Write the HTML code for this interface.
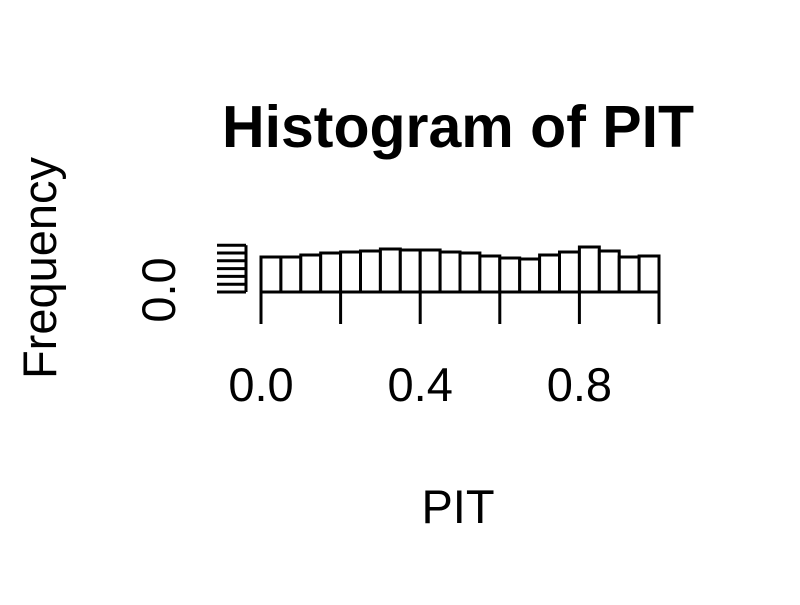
<!DOCTYPE html>
<html><head><meta charset="utf-8"><style>
body{margin:0;background:#fff}
svg text{font-family:"Liberation Sans",sans-serif;fill:#000}
</style></head><body>
<svg width="800" height="600">
<text x="458" y="147" font-size="59" font-weight="bold" text-anchor="middle">Histogram of PIT</text>
<text x="458" y="523" font-size="47" text-anchor="middle">PIT</text>
<text transform="translate(56,268) rotate(-90)" font-size="47" text-anchor="middle">Frequency</text>
<g id="bars"></g>
<g id="axes" stroke="#000" stroke-width="3" fill="none"></g>
<g id="labels"></g>
</svg>
<script>
const counts=[35,35,37,39,40,41,43,42,42,40,39,36,34,33,37,40,45,41,35,36];
const xTicks=[0,0.2,0.4,0.6,0.8,1.0];
const xTickLabels=["0.0","0.4","0.8"];
const xLabelVals=[0,0.4,0.8];
const yTicks=[0,1,2,3,4,5,6];
const NS="http://www.w3.org/2000/svg";
const x=v=>261+v*398, y=v=>292-v, yt=i=>292-i*7.8;
const bars=document.getElementById('bars'),axes=document.getElementById('axes'),labels=document.getElementById('labels');
function mk(tag,attrs,parent){const e=document.createElementNS(NS,tag);for(const k in attrs)e.setAttribute(k,attrs[k]);parent.appendChild(e);return e;}
const bw=1/counts.length;
counts.forEach((c,i)=>{
 const r=mk('rect',{x:x(i*bw),y:y(c),width:x((i+1)*bw)-x(i*bw),height:y(0)-y(c),fill:'#fff',stroke:'#000','stroke-width':3},bars);
 
 
});
const xl=mk('line',{x1:x(0),x2:x(1),y1:292,y2:292},axes);


xTicks.forEach(t=>{const l=mk('line',{x1:x(t),x2:x(t),y1:292,y2:324},axes);
 
 });
xLabelVals.forEach((v,i)=>{const t=mk('text',{x:x(v),y:401,'font-size':47,'text-anchor':'middle'},labels);t.textContent=xTickLabels[i];
 
 });
const yl=mk('line',{x1:246,x2:246,y1:yt(6),y2:yt(0)},axes);


yTicks.forEach(i=>{const l=mk('line',{x1:217,x2:246,y1:yt(i),y2:yt(i)},axes);
 
 });
const yl0=mk('text',{transform:'translate(175,290) rotate(-90)','font-size':47,'text-anchor':'middle'},labels);
yl0.textContent="0.0";


</script>
</body></html>
